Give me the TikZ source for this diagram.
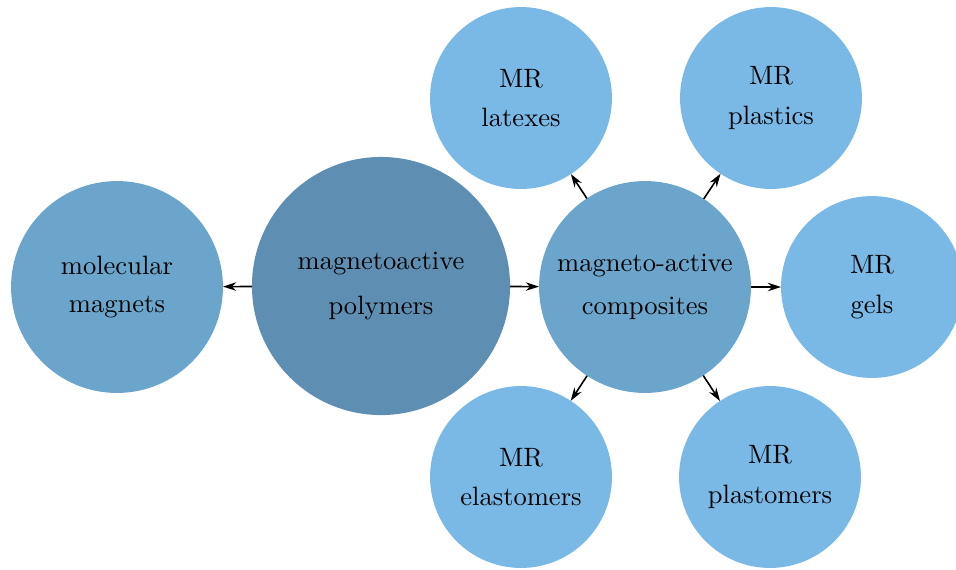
\documentclass[tikz,border=0pt]{standalone}
\usepackage{xcolor}
\usepackage{tikz}
\usetikzlibrary{arrows.meta}
\definecolor{polyblue}{RGB}{94,143,178}
\definecolor{compblue}{RGB}{107,165,203}
\definecolor{mrblue}{RGB}{122,185,230}
\tikzstyle{ball}=[circle,inner sep=0pt,outer sep=0pt,align=center,text=black,font=\normalsize]
\tikzstyle{bigball}=[ball,fill=polyblue,minimum size=97.2pt]
\tikzstyle{midball}=[ball,fill=compblue,minimum size=79.8pt]
\tikzstyle{mrball}=[ball,fill=mrblue,minimum size=68.5pt]
\tikzstyle{link}=[line width=.6pt,-{Stealth[length=5pt,width=3.2pt]}]
\begin{document}
\begin{tikzpicture}[x=0.3766pt,y=-0.3766pt]
	\useasboundingbox (0,0) rectangle (956,569);
	\node[bigball] (poly) at (381,286) {magnetoactive\\[5pt] polymers};
	\node[midball] (mol)  at (117,287) {molecular\\[2pt] magnets};
	\node[midball] (comp) at (645,287) {magneto-active\\[4pt] composites};
	\node[mrball]  (lat)  at (521,98)  {MR\\[3pt] latexes};
	\node[mrball]  (pla)  at (771,98)  {MR\\[3pt] plastics};
	\node[mrball]  (gel)  at (872,287) {MR\\[3pt] gels};
	\node[mrball]  (ela)  at (521,477) {MR\\[3pt] elastomers};
	\node[mrball]  (pls)  at (770,477) {MR\\[3pt] plastomers};
	\draw[link] (poly) -- (mol);
	\draw[link] (poly) -- (comp);
	\foreach \t in {lat,pla,gel,ela,pls}
		\draw[link] (comp) -- (\t);
\end{tikzpicture}
\end{document}
